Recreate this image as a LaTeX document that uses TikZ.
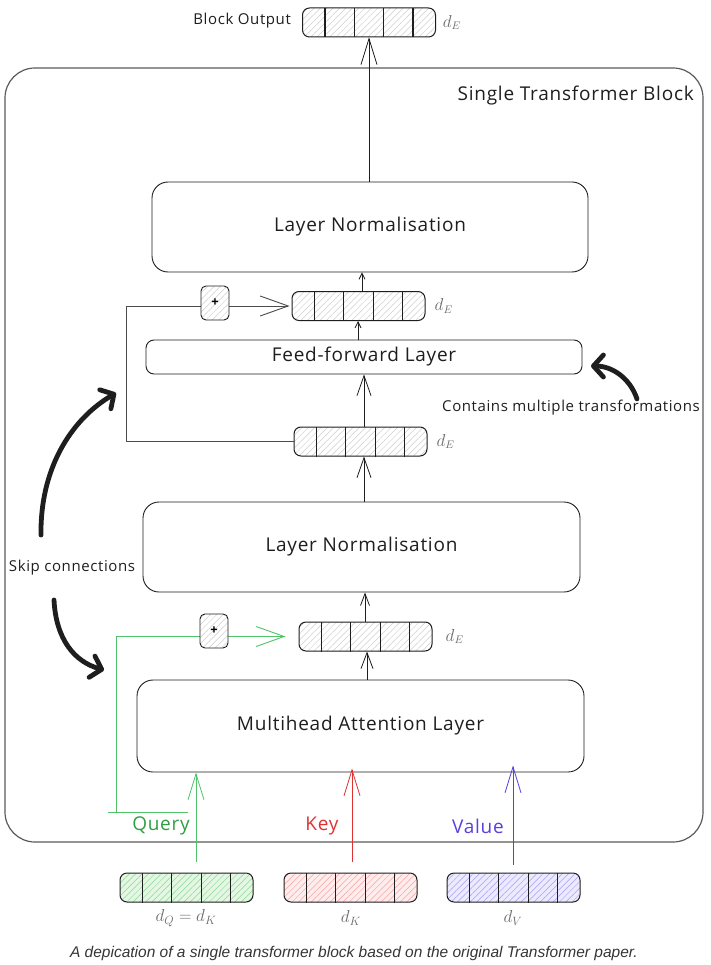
\documentclass[tikz,border=0pt]{standalone}
\usepackage{fontspec}
\setmainfont{Open Sans}[LetterSpace=4]
\newfontfamily\capfont{Liberation Sans}
\usetikzlibrary{arrows.meta,patterns.meta,calc}
\definecolor{ink}{HTML}{1E1E1E}
\definecolor{frame}{HTML}{5A5A5A}
\definecolor{dimgray}{HTML}{6A6A6A}
\definecolor{hatchgray}{HTML}{CFCFCF}
\definecolor{qline}{HTML}{51C26A}
\definecolor{qtext}{HTML}{2F9E44}
\definecolor{kline}{HTML}{E03131}
\definecolor{vline}{HTML}{5B3FE0}
\definecolor{qfill}{HTML}{E3F7E3}
\definecolor{qhatch}{HTML}{8FD69A}
\definecolor{kfill}{HTML}{FFEDED}
\definecolor{khatch}{HTML}{F5A3A3}
\definecolor{vfill}{HTML}{ECEAFF}
\definecolor{vhatch}{HTML}{A89DF0}
\newcommand\bigtxt{\fontsize{19}{22}\selectfont}
\newcommand\smalltxt{\fontsize{15}{18}\selectfont}
\newcommand\vdivs[1]{\foreach \f in {0.17,0.39,0.61,0.83}{\draw[ink,line width=1.2pt] ($(#1.south west)!\f!(#1.south east)$) -- ($(#1.north west)!\f!(#1.north east)$);}}
\begin{document}
\begin{tikzpicture}[x=1pt,y=-1pt,
  layerbox/.style={draw=ink,line width=0.9pt,rounded corners=16pt,fill=white,font=\bigtxt,text=ink,inner sep=0pt},
  vecbox/.style n args={2}{draw=ink,line width=1pt,rounded corners=7pt,minimum width=133pt,minimum height=29pt,inner sep=0pt,
     preaction={fill=#1},pattern={Lines[angle=45,distance=4.5pt,line width=0.5pt]},pattern color=#2},
  plusbox/.style={draw=ink,line width=0.9pt,rounded corners=5pt,minimum width=28pt,minimum height=34pt,inner sep=0pt,
     preaction={fill=white},pattern={Lines[angle=45,distance=4.5pt,line width=0.5pt]},pattern color=hatchgray,font=\fontsize{13}{13}\selectfont\bfseries},
  dimlab/.style={text=dimgray,font=\fontsize{16}{16}\selectfont,inner sep=0pt},
  note/.style={text=ink,font=\smalltxt,inner sep=0pt},
  bigarr/.style={-{Straight Barb[length=26pt,width=16pt]},line width=0.8pt,ink},
  medarr/.style={-{Straight Barb[length=20pt,width=14pt]},line width=0.8pt,ink},
  smallarr/.style={-{Straight Barb[length=6pt,width=6pt]},line width=0.8pt,ink},
  skiparr/.style={-{Straight Barb[length=28pt,width=20pt]},line width=0.9pt},
  thickarr/.style={-{Straight Barb[length=10pt,width=22pt,line cap=round,line join=round]},line width=4.8pt,line cap=round,ink},
]
\useasboundingbox (0,0) rectangle (711,965);

% outer block
\node[draw=frame,line width=1.2pt,rounded corners=30pt,minimum width=698pt,minimum height=774pt] (outer) at (354,455) {};
\node[note,font=\bigtxt,anchor=east] (title) at (694,96) {Single Transformer Block};

% layers
\node[layerbox,minimum width=436pt,minimum height=90pt] (ln1) at (370,227) {Layer Normalisation};
\node[layerbox,minimum width=436pt,minimum height=34pt,rounded corners=8pt] (ff) at (364,357) {Feed-forward Layer};
\node[layerbox,minimum width=437pt,minimum height=90pt] (ln2) at (361.5,547) {Layer Normalisation};
\node[layerbox,minimum width=447pt,minimum height=92pt] (mha) at (360.5,726) {Multihead Attention Layer};

% vectors
\node[vecbox={white}{hatchgray}] (vout) at (369,22.5) {};
\node[vecbox={white}{hatchgray}] (v2) at (358.5,306) {};
\node[vecbox={white}{hatchgray}] (v3) at (360.5,441.5) {};
\node[vecbox={white}{hatchgray}] (v4) at (365.5,636.5) {};
\node[vecbox={qfill}{qhatch}] (vq) at (186.5,887.5) {};
\node[vecbox={kfill}{khatch}] (vk) at (350.5,887.5) {};
\node[vecbox={vfill}{vhatch}] (vv) at (513.5,887.5) {};
\vdivs{vout}\vdivs{v2}\vdivs{v3}\vdivs{v4}\vdivs{vq}\vdivs{vk}\vdivs{vv}

% dimension labels
\node[dimlab,anchor=west] (dout) at ([xshift=7pt]vout.east) {$d_E$};
\node[dimlab,anchor=west] (d2) at ([xshift=9pt]v2.east) {$d_E$};
\node[dimlab,anchor=west] (d3) at ([xshift=9pt]v3.east) {$d_E$};
\node[dimlab,anchor=west] (d4) at ([xshift=13pt]v4.east) {$d_E$};
\node[dimlab,font=\fontsize{17}{17}\selectfont] (dq) at (186,918) {$d_Q = d_K$};
\node[dimlab,font=\fontsize{17}{17}\selectfont] (dk) at (351,918) {$d_K$};
\node[dimlab,font=\fontsize{17}{17}\selectfont] (dv) at (513,918) {$d_V$};

% labels
\node[note,anchor=east] (blkout) at (291,21) {Block Output};
\node[note] (skiplab) at (72,568) {Skip connections};
\node[note,anchor=west] (contains) at (442,408) {Contains multiple transformations};
\node[text=qtext,font=\bigtxt,inner sep=0pt] (qlab) at (161,826) {Query};
\node[text=kline,font=\bigtxt,inner sep=0pt] (klab) at (322,826) {Key};
\node[text=vline,font=\bigtxt,inner sep=0pt] (vlab) at (478,826) {Value};

% main flow arrows
\draw[bigarr] (ln1.north -| vout.south) -- (vout.south);
\draw[smallarr] (v2.north -| 362,0) -- (ln1.south -| 362,0);
\draw[smallarr] (ff.north -| 358,0) -- (v2.south -| 358,0);
\draw[medarr] (v3.north -| 364,0) -- (ff.south -| 364,0);
\draw[medarr] (ln2.north -| 364,0) -- (v3.south -| 364,0);
\draw[smallarr,-{Straight Barb[length=12pt,width=9pt]}] (v4.north -| 365,0) -- (ln2.south -| 365,0);
\draw[medarr,-{Straight Barb[length=16pt,width=12pt]}] (mha.north -| 367,0) -- (v4.south -| 367,0);

% skip connection 1 (gray)
\coordinate (s1) at (126,441.5);
\draw[ink!80,line width=0.8pt] (v3.west) -- (s1) -- (s1 |- v2.west);
\draw[skiparr,ink!80] (s1 |- v2.west) -- ([xshift=-2pt]v2.west);
\node[plusbox] (p1) at (215,303) {+};

% skip connection 2 (green)
\coordinate (g1) at (188,812);
\coordinate (g2) at (116,812);
\draw[qline,line width=0.9pt] (g1) -- ([xshift=-8pt]g2) (g2) -- (g2 |- v4.west);
\draw[skiparr,qline] (g2 |- v4.west) -- ([xshift=-13pt]v4.west);
\node[plusbox] (p2) at (214,631) {+};

% input arrows
\coordinate (q0) at (196,862);
\coordinate (k0) at (352,862);
\coordinate (w0) at (513,865);
\draw[bigarr,qline] (q0) -- (q0 |- mha.south);
\draw[bigarr,kline] (k0) -- ([yshift=4pt]k0 |- mha.south);
\draw[bigarr,vline] (w0) -- ([yshift=7pt]w0 |- mha.south);

% annotation arrows
\coordinate (a1s) at (41,535);
\coordinate (a1e) at (116,393);
\coordinate (a2s) at (54,600);
\coordinate (a2e) at (104,670);
\coordinate (a3s) at (637,399);
\coordinate (a3e) at (591,366);
\draw[thickarr] (a1s) .. controls (40,470) and (70,420) .. (a1e);
\draw[thickarr] (a2s) .. controls (56,640) and (75,662) .. (a2e);
\draw[thickarr] (a3s) .. controls (630,378) and (612,366) .. (a3e);

% caption
\node[text=ink!90,font=\capfont\itshape\fontsize{15.5}{18}\selectfont,inner sep=0pt] (cap) at (354,953) {A depication of a single transformer block based on the original Transformer paper.};
\end{tikzpicture}
\end{document}
